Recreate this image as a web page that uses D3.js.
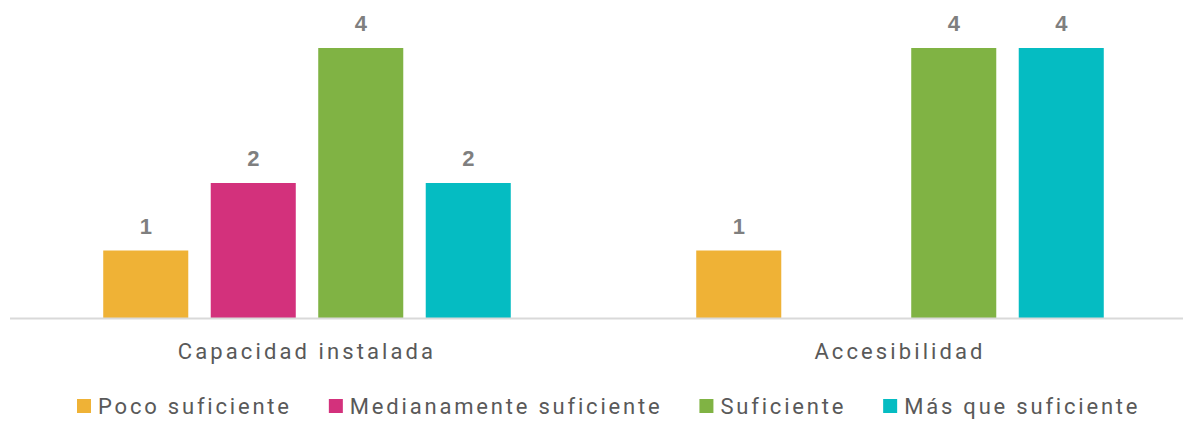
<!DOCTYPE html>
<html>
<head>
<meta charset="utf-8">
<script src="https://cdn.jsdelivr.net/npm/d3@7"></script>
<style>
  body { margin: 0; background: #fff; }
  svg { display: block; }
  .cat-label { font-family: Roboto, "Liberation Sans", sans-serif; font-size: 22px; fill: #595959; letter-spacing: 3.1px; }
  .legend-label { font-family: Roboto, "Liberation Sans", sans-serif; font-size: 22px; fill: #595959; letter-spacing: 2.8px; }
  .value-label { font-family: "Liberation Sans Narrow", "Liberation Sans", sans-serif; font-size: 22px; font-weight: bold; fill: #7f7f7f; }
</style>
</head>
<body>
<div id="chart"></div>
<script>
// data
const categories = ["Capacidad instalada", "Accesibilidad"];
const seriesNames = ["Poco suficiente", "Medianamente suficiente", "Suficiente", "Más que suficiente"];
const seriesColors = ["#efb236", "#d3317c", "#80b344", "#05bcc2"];
const pocoSuficiente = [1, 1];
const medianamenteSuficiente = [2, null];
const suficiente = [4, 4];
const masQueSuficiente = [2, 4];

const seriesValues = [pocoSuficiente, medianamenteSuficiente, suficiente, masQueSuficiente];

const width = 1184, height = 421;

const svg = d3.select("#chart").append("svg")
    .attr("width", width)
    .attr("height", height);

// scales
const x0 = d3.scaleBand()
    .domain(categories)
    .range([10.5, 1196.5]);

const x1 = d3.scaleBand()
    .domain(seriesNames)
    .range([81.5, 511.5])
    .paddingInner(0.209)
    .paddingOuter(0.1045);

const y = d3.scaleLinear()
    .domain([0, 4])
    .range([318, 48]);

// flatten into table
let rows = [];
categories.forEach((c, i) => {
    seriesNames.forEach((s, j) => {
        if (seriesValues[j][i] != null) {
            rows.push({cat: c, series: s, value: seriesValues[j][i], color: seriesColors[j]});
        }
    });
});

// bars
svg.append("g").selectAll("rect")
    .data(rows)
    .enter()
    .append("rect")
    .attr("x", d => x0(d.cat) + x1(d.series))
    .attr("y", d => y(d.value))
    .attr("width", x1.bandwidth())
    .attr("height", d => y(0) - y(d.value))
    .attr("fill", d => d.color);

// value labels
svg.append("g").selectAll("text")
    .data(rows)
    .enter()
    .append("text")
    .attr("class", "value-label")
    .attr("x", d => x0(d.cat) + x1(d.series) + x1.bandwidth() / 2)
    .attr("y", d => y(d.value) - 17)
    .attr("text-anchor", "middle")
    .text(d => d.value);

// axis line
svg.append("line")
    .attr("x1", 10)
    .attr("x2", 1183)
    .attr("y1", y(0) + 0.5)
    .attr("y2", y(0) + 0.5)
    .attr("stroke", "#d9d9d9")
    .attr("stroke-width", 2);

// category labels
svg.append("g").selectAll("text")
    .data(categories)
    .enter()
    .append("text")
    .attr("class", "cat-label")
    .attr("x", d => x0(d) + x0.bandwidth() / 2)
    .attr("y", 359)
    .attr("text-anchor", "middle")
    .text(d => d);

// legend
const legend = svg.append("g").attr("class", "legend");
let lx = 77;
seriesNames.forEach((s, i) => {
    legend.append("rect")
        .attr("x", lx)
        .attr("y", 399)
        .attr("width", 14)
        .attr("height", 14)
        .attr("fill", seriesColors[i]);
    let t = legend.append("text")
        .attr("class", "legend-label")
        .attr("x", lx + 21)
        .attr("y", 414)
        .text(s);
    lx += 21 + t.node().getComputedTextLength() + 37;
});
</script>
</body>
</html>
